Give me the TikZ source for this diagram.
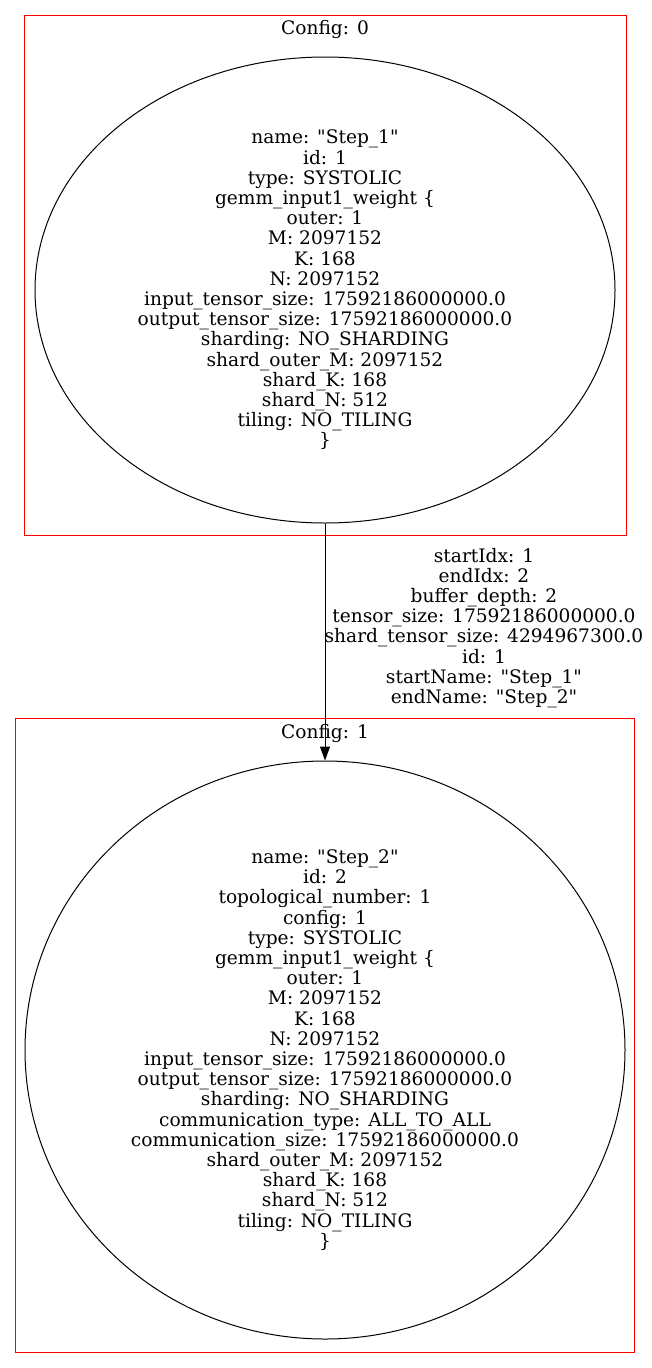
\documentclass[tikz,border=0pt]{standalone}
\usepackage{fontspec}
\setmainfont{DejaVu Serif}
\newfontfamily\graphfont{DejaVu Serif}
\usetikzlibrary{shapes.geometric,arrows.meta}
\newcommand{\qt}{\symbol{34}}
\begin{document}
\begin{tikzpicture}[x=1pt,y=-1pt,
  txt/.style={font=\graphfont\fontsize{18.6}{20.2}\selectfont, align=center, inner sep=0pt},
  cluster/.style={draw=red, line width=1pt, rectangle, inner sep=0pt},
  stepnode/.style={draw=black, line width=1pt, ellipse, inner sep=0pt,
    font=\graphfont\fontsize{18.6}{20.2}\selectfont, align=center},
  flow/.style={draw=black, line width=1pt, -{Triangle[length=14pt,width=10pt]}}]
\useasboundingbox (0,0) rectangle (652,1368);

% config clusters
\node[cluster, minimum width=602pt, minimum height=520pt] (c0) at (325,275) {};
\node[txt, anchor=base] (c0label) at (325,34) {Config: 0};
\node[cluster, minimum width=619pt, minimum height=634pt] (c1) at (324.5,1035) {};
\node[txt, anchor=base] (c1label) at (325,738) {Config: 1};

% steps
\node[stepnode, minimum width=580pt, minimum height=466pt] (s1) at (325,290) {%
name: \qt Step\_1\qt\\
id: 1\\
type: SYSTOLIC\\
gemm\_input1\_weight \{\\
outer: 1\\
M: 2097152\\
K: 168\\
N: 2097152\\
input\_tensor\_size: 17592186000000.0\\
output\_tensor\_size: 17592186000000.0\\
sharding: NO\_SHARDING\\
shard\_outer\_M: 2097152\\
shard\_K: 168\\
shard\_N: 512\\
tiling: NO\_TILING\\
\}};

\node[stepnode, minimum width=600pt, minimum height=578pt] (s2) at (325,1050) {%
name: \qt Step\_2\qt\\
id: 2\\
topological\_number: 1\\
config: 1\\
type: SYSTOLIC\\
gemm\_input1\_weight \{\\
outer: 1\\
M: 2097152\\
K: 168\\
N: 2097152\\
input\_tensor\_size: 17592186000000.0\\
output\_tensor\_size: 17592186000000.0\\
sharding: NO\_SHARDING\\
communication\_type: ALL\_TO\_ALL\\
communication\_size: 17592186000000.0\\
shard\_outer\_M: 2097152\\
shard\_K: 168\\
shard\_N: 512\\
tiling: NO\_TILING\\
\}};

% connection
\draw[flow] (s1.south) -- (s2.north);
\node[txt] (elabel) at (484,628) {%
startIdx: 1\\
endIdx: 2\\
buffer\_depth: 2\\
tensor\_size: 17592186000000.0\\
shard\_tensor\_size: 4294967300.0\\
id: 1\\
startName: \qt Step\_1\qt\\
endName: \qt Step\_2\qt};
\end{tikzpicture}
\end{document}
